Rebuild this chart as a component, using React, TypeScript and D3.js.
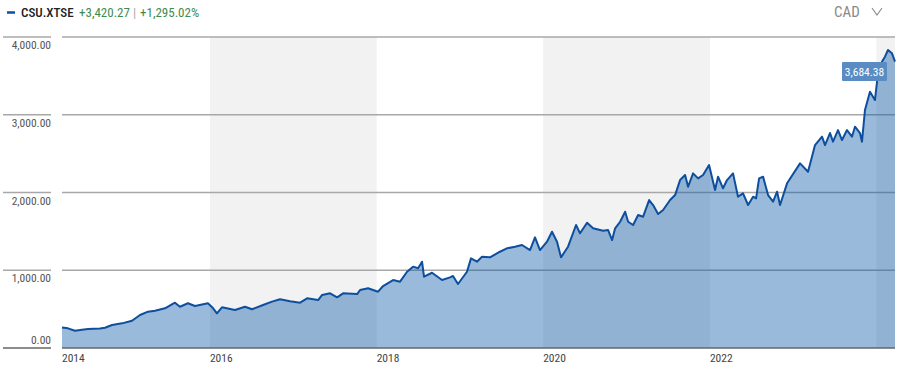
import * as d3 from "d3";

// trading time as decimal years
const years = [
  2014.223, 2014.295, 2014.379, 2014.463, 2014.535, 2014.679, 2014.739, 2014.824, 2014.944,
  2015.064, 2015.16, 2015.256, 2015.34, 2015.46, 2015.58, 2015.64, 2015.736, 2015.82, 2015.976,
  2016.036, 2016.084, 2016.144, 2016.3, 2016.42, 2016.504, 2016.636, 2016.744, 2016.84, 2016.96,
  2017.08, 2017.164, 2017.297, 2017.345, 2017.441, 2017.525, 2017.597, 2017.765, 2017.801, 2017.897,
  2018.017, 2018.077, 2018.197, 2018.281, 2018.365, 2018.437, 2018.497, 2018.545, 2018.569,
  2018.665, 2018.785, 2018.881, 2018.917, 2018.977,
  2019.085, 2019.133, 2019.205, 2019.265, 2019.361, 2019.481, 2019.565, 2019.662, 2019.746,
  2019.842, 2019.902, 2019.962,
  2020.046, 2020.106, 2020.166, 2020.214, 2020.298, 2020.394, 2020.442, 2020.526, 2020.598,
  2020.718, 2020.778, 2020.826, 2020.862, 2020.922, 2020.982,
  2021.018, 2021.078, 2021.138, 2021.198, 2021.27, 2021.318, 2021.378, 2021.438, 2021.522,
  2021.582, 2021.642, 2021.702, 2021.738, 2021.798, 2021.858, 2021.918, 2021.99,
  2022.062, 2022.098, 2022.158, 2022.206, 2022.278, 2022.338, 2022.398, 2022.459, 2022.519,
  2022.555, 2022.591, 2022.639, 2022.699, 2022.759, 2022.807, 2022.843, 2022.927,
  2023.083, 2023.179, 2023.263, 2023.347, 2023.383, 2023.443, 2023.479, 2023.539, 2023.587,
  2023.647, 2023.707, 2023.743, 2023.803, 2023.827, 2023.863, 2023.923, 2023.983,
  2024.019, 2024.067, 2024.103, 2024.139, 2024.187, 2024.223,
];
// CSU.XTSE close, CAD
const prices = [
  264, 253, 222, 236, 244, 250, 261, 296, 317,
  351, 424, 467, 480, 510, 583, 531, 575, 540, 575,
  514, 446, 523, 489, 531, 498, 553, 596, 626, 600,
  583, 639, 617, 682, 703, 652, 703, 694, 746, 768,
  724, 797, 874, 853, 981, 1046, 1025, 1110, 917,
  968, 874, 909, 926, 823,
  981, 1153, 1110, 1174, 1166, 1238, 1282, 1303, 1325,
  1260, 1423, 1260,
  1367, 1496, 1367, 1166, 1303, 1582, 1475, 1611, 1539,
  1508, 1517, 1389, 1539, 1624, 1753,
  1624, 1582, 1710, 1689, 1903, 1839, 1723, 1775, 1903,
  1967, 2160, 2225, 2074, 2246, 2182, 2225, 2353,
  2032, 2203, 2054, 2160, 2246, 1946, 1989, 1839, 1946,
  1925, 2182, 2203, 1967, 1882, 2010, 1839, 2118,
  2375, 2267, 2610, 2718, 2610, 2765, 2654, 2803, 2675,
  2803, 2718, 2846, 2765, 2654, 3061, 3296, 3189,
  3533, 3682, 3747, 3833, 3790, 3684.38,
];
const yTicks = [0, 1000, 2000, 3000, 4000];
const xTickYears = [2014, 2016, 2018, 2020, 2022];
const shadedSpans = [
  [2016, 2018],
  [2020, 2022],
  [2024, 2024.223],
];

const W = 900;
const H = 372;
const left = 62;
const right = 895;
const top = 37;
const bottom = 348;
const font = "'Liberation Sans Narrow', 'Roboto Condensed', Roboto, sans-serif";

function fromYear(v: number) {
  const y = Math.floor(v);
  const a = new Date(y, 0, 1).getTime();
  const b = new Date(y + 1, 0, 1).getTime();
  return new Date(a + (v - y) * (b - a));
}

export default function App() {
  const data = years.map((yr, i) => ({ date: fromYear(yr), value: prices[i] }));

  const x = d3
    .scaleTime()
    .domain([data[0].date, data[data.length - 1].date])
    .range([left, right]);
  const y = d3.scaleLinear().domain([0, 4000]).range([bottom, top]);

  const area = d3
    .area<{ date: Date; value: number }>()
    .x((d) => x(d.date))
    .y0(bottom)
    .y1((d) => y(d.value));
  const line = d3
    .line<{ date: Date; value: number }>()
    .x((d) => x(d.date))
    .y((d) => y(d.value));

  const fmt = d3.format(",.2f");
  const last = data[data.length - 1];

  return (
    <svg
      width={W}
      height={H}
      style={{ position: "absolute", left: 0, top: 0, background: "#fff" }}
      fontFamily={font}
    >
      {/* header / legend */}
      <line x1={7} x2={15} y1={12.5} y2={12.5} stroke="#0d4f9e" strokeWidth={2.5} />
      <text x={21} y={17} fontSize={13} fill="#222" fontWeight={500}>
        CSU.XTSE
      </text>
      <text x={79} y={17} fontSize={13} fill="#3f8b4e">
        +3,420.27
      </text>
      <text x={133} y={17} fontSize={13} fill="#aaa">
        |
      </text>
      <text x={140} y={17} fontSize={13} fill="#3f8b4e">
        +1,295.02%
      </text>
      <text x={834} y={17} fontSize={15} fill="#888">
        CAD
      </text>
      <path d="M872,8 L877,15 L882,8" fill="none" stroke="#888" strokeWidth={1.1} />

      {/* alternating 2-year bands */}
      {shadedSpans.map(([a, b]) => (
        <rect
          key={a}
          x={x(fromYear(a))}
          y={top}
          width={x(fromYear(b)) - x(fromYear(a))}
          height={bottom - top}
          fill="#f2f2f2"
        />
      ))}

      {/* grid lines */}
      {yTicks.map((t) => (
        <g key={t}>
          <line x1={3} x2={51} y1={y(t)} y2={y(t)} stroke={t === 0 ? "#666" : "#a8a8a8"} strokeWidth={1.5} />
          {t > 0 && (
            <line x1={left} x2={right} y1={y(t)} y2={y(t)} stroke="#a8a8a8" strokeWidth={1.5} />
          )}
          <text x={51} y={t === 0 ? y(t) - 4 : y(t) + 12} textAnchor="end" fontSize={11.5} fill="#555">
            {fmt(t)}
          </text>
        </g>
      ))}

      {/* area + line */}
      <path d={area(data) ?? ""} fill="rgb(0,82,163)" fillOpacity={0.4} />
      <path d={line(data) ?? ""} fill="none" stroke="#0d4f9e" strokeWidth={2} strokeLinejoin="round" />
      <line x1={left} x2={right} y1={bottom} y2={bottom} stroke="#666" strokeWidth={1.5} />

      {/* x ticks */}
      {xTickYears.map((yr, i) => (
        <text
          key={yr}
          x={i === 0 ? left : x(fromYear(yr))}
          y={362}
          fontSize={11.5}
          fill="#444"
        >
          {yr}
        </text>
      ))}

      {/* last value label */}
      <rect x={842} y={62} width={45} height={19} fill="#5a8cc4" rx={1} />
      <text x={864.5} y={75.5} textAnchor="middle" fontSize={11.5} fill="#fff">
        {fmt(last.value)}
      </text>
    </svg>
  );
}
